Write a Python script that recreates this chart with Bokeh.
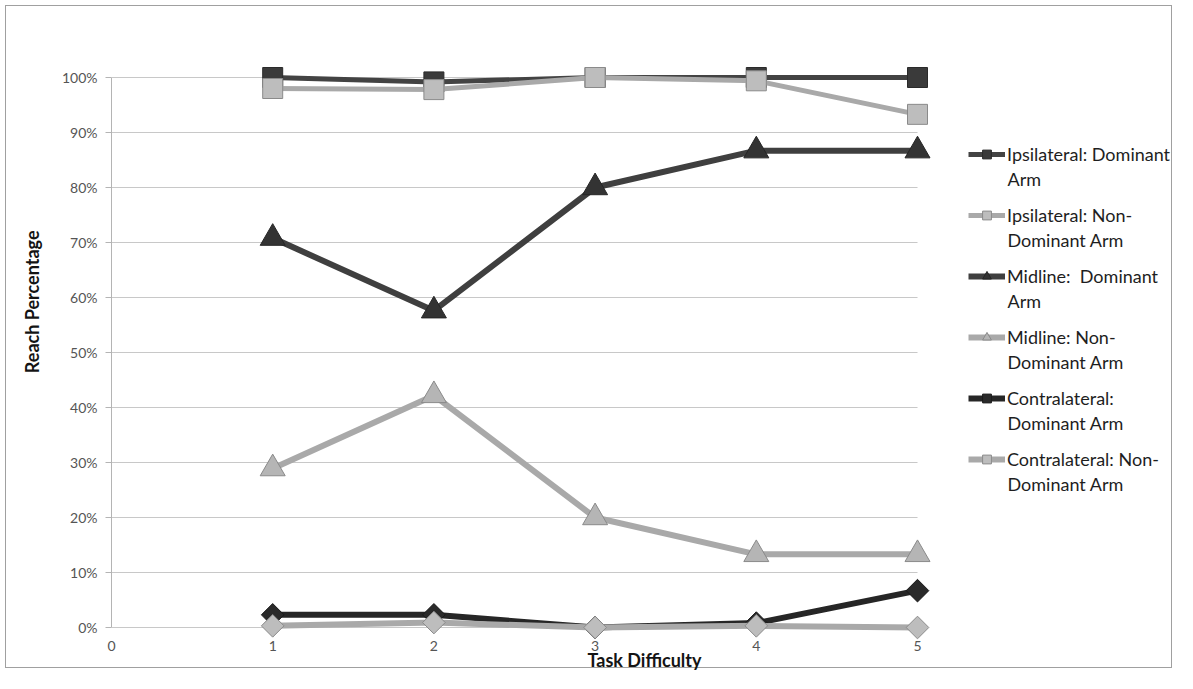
from bokeh.plotting import figure
from bokeh.models import Range1d, FixedTicker, Legend, LegendItem, PrintfTickFormatter, Label, Title
from bokeh.embed import file_html
from bokeh.resources import INLINE
import math

# ---------------- data ----------------
difficulty = [1, 2, 3, 4, 5]
ipsi_dom = [100.0, 99.2, 100.0, 100.0, 100.0]
ipsi_non = [98.0, 97.8, 100.0, 99.4, 93.3]
mid_dom = [70.8, 57.6, 80.0, 86.7, 86.7]
mid_non = [28.9, 42.2, 20.0, 13.3, 13.3]
contra_dom = [2.3, 2.3, 0.0, 0.8, 6.7]
contra_non = [0.3, 0.9, 0.0, 0.3, 0.0]

series_labels = [
    "Ipsilateral: Dominant\nArm",
    "Ipsilateral: Non-\nDominant Arm",
    "Midline:  Dominant\nArm",
    "Midline: Non-\nDominant Arm",
    "Contralateral:\nDominant Arm",
    "Contralateral: Non-\nDominant Arm",
]
x_ticks = [0, 1, 2, 3, 4, 5]
y_ticks = [0, 10, 20, 30, 40, 50, 60, 70, 80, 90, 100]
x_title = "Task Difficulty"
y_title = "Reach Percentage"

# ---------------- layout (figure pixels) ----------------
W, H = 1177, 673
FL, FT, FB = 111, 20, 639          # frame left / top / bottom
X5 = 917                            # pixel of difficulty 5
Y0, Y100 = 627, 77                  # pixels of 0 % and 100 %
PX_X = (X5 - FL) / 5
PX_Y = (Y0 - Y100) / 100
x_end = (W - FL) / PX_X
y_end = 100 + (Y100 - FT) / PX_Y
y_start = -(FB - Y0) / PX_Y

FONT = "Lato"

p = figure(width=W, height=H, output_backend="svg", toolbar_location=None,
           x_range=Range1d(0, x_end), y_range=Range1d(y_start, y_end),
           min_border_left=FL, min_border_top=FT, min_border_bottom=H - FB,
           min_border_right=0, title=None)
p.outline_line_color = None
p.grid.visible = False
p.background_fill_alpha = 0
p.border_fill_alpha = 0
p.styles = {"background": "white",
            "box-shadow": "inset 0 0 0 5px white, inset 0 0 0 6px #a0a0a0"}

# horizontal grid lines spanning difficulty 0..5
p.segment(x0=[x_ticks[0]] * len(y_ticks), x1=[x_ticks[-1]] * len(y_ticks),
          y0=y_ticks, y1=y_ticks, line_color="#c8c8c8", line_width=1.2)

# y axis
yax = p.yaxis[0]
yax.ticker = FixedTicker(ticks=y_ticks)
yax.formatter = PrintfTickFormatter(format="%d%%")
yax.bounds = (0, 100)
yax.axis_line_color = "#b4b4b4"
yax.major_tick_line_color = "#b4b4b4"
yax.major_tick_out = 6
yax.major_tick_in = 0
yax.minor_tick_line_color = None
yax.major_label_standoff = 8
yax.major_label_text_font = FONT
yax.major_label_text_font_size = "14px"
yax.major_label_text_color = "#555555"

# x axis
xax = p.xaxis[0]
xax.ticker = FixedTicker(ticks=x_ticks)
xax.axis_line_color = None
xax.major_tick_line_color = None
xax.minor_tick_line_color = None
xax.major_tick_out = 0
xax.major_tick_in = 0
xax.major_label_standoff = 1
xax.major_label_text_font = FONT
xax.major_label_text_font_size = "14px"
xax.major_label_text_color = "#555555"
xax.axis_label = x_title
xax.axis_label_text_font = FONT
xax.axis_label_text_font_size = "18px"
xax.axis_label_text_font_style = "bold"
xax.axis_label_text_color = "#141414"
xax.axis_label_standoff = -5

# y-axis title: top end placed like the reference (above the frame centre)
YT_TOP = 230
ytitle = Title(text=y_title, align="right", offset=YT_TOP - FT, standoff=32,
               text_font=FONT, text_font_size="18px", text_font_style="bold",
               text_color="#141414")
p.add_layout(ytitle, "left")

styles = [
    dict(y=ipsi_dom, lc="#434343", marker="square", size=20, angle=0, fill="#3a3a3a", edge="#2a2a2a", lw=5),
    dict(y=ipsi_non, lc="#a9a9a9", marker="square", size=20, angle=0, fill="#bdbdbd", edge="#8a8a8a", lw=5),
    dict(y=mid_dom, lc="#3f3f3f", marker="triangle", size=25, angle=0, fill="#333333", edge="#262626", lw=6),
    dict(y=mid_non, lc="#a9a9a9", marker="triangle", size=25, angle=0, fill="#b5b5b5", edge="#8a8a8a", lw=6),
    dict(y=contra_dom, lc="#262626", marker="square", size=16, angle=math.pi / 4, fill="#2a2a2a", edge="#1a1a1a", lw=6),
    dict(y=contra_non, lc="#a9a9a9", marker="square", size=16, angle=math.pi / 4, fill="#bdbdbd", edge="#8a8a8a", lw=6),
]

# legend geometry
LG_X0 = 968            # glyph left (figure px)
LG_W = 37
LG_STAND = 2
LG_FIRST = 154         # centre of first text line of first entry
LG_PITCH = 61
LG_LINE = 24.5
ITEM_H = 22

items = []
for i, (lab, st) in enumerate(zip(series_labels, styles)):
    ln = p.line(difficulty, st["y"], line_color=st["lc"], line_width=st["lw"], line_join="round")
    sc = p.scatter(difficulty, st["y"], marker=st["marker"], size=st["size"], angle=st["angle"],
                   fill_color=st["fill"], line_color=st["edge"], line_width=1)
    first, second = lab.split("\n")
    items.append(LegendItem(label=first, renderers=[ln, sc]))
    p.add_layout(Label(x=LG_X0 + LG_W + LG_STAND - FL,
                       y=FB - (LG_FIRST + LG_LINE + LG_PITCH * i),
                       x_units="screen", y_units="screen", text=second,
                       text_align="left", text_baseline="middle",
                       text_font=FONT, text_font_size="18px", text_color="#1e1e1e"))

n = len(items)
leg_h = n * ITEM_H + (n - 1) * (LG_PITCH - ITEM_H)
leg_top = LG_FIRST - ITEM_H / 2
legend = Legend(items=items, location=(LG_X0 - FL, FB - leg_top - leg_h), orientation="vertical",
                label_text_font=FONT, label_text_font_size="18px",
                label_text_color="#1e1e1e", label_height=ITEM_H,
                glyph_width=LG_W, glyph_height=ITEM_H, label_standoff=LG_STAND,
                spacing=LG_PITCH - ITEM_H, padding=0, margin=0,
                border_line_color=None, background_fill_alpha=0)
p.add_layout(legend)

open("out.html", "w").write(file_html(p, INLINE))
